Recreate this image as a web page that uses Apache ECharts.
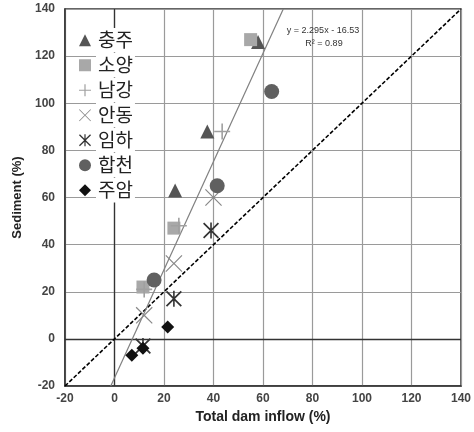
<!DOCTYPE html>
<html><head><meta charset="utf-8">
<script src="https://cdn.jsdelivr.net/npm/echarts@6/dist/echarts.min.js"></script>
<style>html,body{margin:0;padding:0;background:#fff}#c{width:474px;height:432px}</style>
</head><body><div id="c"></div>
<script>
const xTicks = [-20,0,20,40,60,80,100,120,140];
const yTicks = [-20,0,20,40,60,80,100,120,140];
const names = ['충주','소양','남강','안동','임하','합천','주암'];
const chungju = [[24.5,63],[37.5,88],[58,126]];
const soyang = [[11.5,22],[24,47],[55,127]];
const namgang = [[12,21],[26,48],[43.5,88]];
const andong = [[12,10],[24,32],[40,60]];
const imha = [[11.5,-3],[24,17],[39,46]];
const hapcheon = [[16,25],[41.5,65],[63.5,105]];
const juam = [[7,-7],[11.5,-4],[21.5,5]];
const trendLine = [[-1.5,-20],[68.2,140]];
const oneToOne = [[-20,-20],[140,140]];
const eqText = ['y = 2.295x - 16.53','R² = 0.89'];

const PLUS = 'path://M9,0 H11 V9 H20 V11 H11 V20 H9 V11 H0 V9 H9 Z';
const XS = 'path://M1,0 L10,9 L19,0 L20,1 L11,10 L20,19 L19,20 L10,11 L1,20 L0,19 L9,10 L0,1 Z';
const AST = 'path://M1.5,0 L10,8.5 L18.5,0 L20,1.5 L11.5,10 L20,18.5 L18.5,20 L10,11.5 L1.5,20 L0,18.5 L8.5,10 L0,1.5 Z M9,0 H11 V20 H9 Z';

const defs = [
  {d:chungju, sym:'triangle', size:14, color:'#555555'},
  {d:soyang, sym:'rect', size:13, color:'#a8a8a8'},
  {d:namgang, sym:PLUS, size:16, color:'#a0a0a0'},
  {d:andong, sym:XS, size:17, color:'#888888'},
  {d:imha, sym:AST, size:16, color:'#333333'},
  {d:hapcheon, sym:'circle', size:15, color:'#606060'},
  {d:juam, sym:'diamond', size:13, color:'#111111'}
];

const chart = echarts.init(document.getElementById('c'), null, {renderer:'canvas'});
const series = [
  {type:'line', data:oneToOne, symbol:'none', silent:true, z:2,
   lineStyle:{color:'#000', width:1.6, type:[4,2]},
   markLine:{silent:true, z:1, symbol:'none', label:{show:false},
     lineStyle:{color:'#333', width:1.3, type:'solid'},
     data:[{xAxis:0},{yAxis:0}]}},
  {type:'line', data:trendLine, symbol:'none', silent:true, z:2,
   lineStyle:{color:'#808080', width:1.2}}
];
defs.forEach((s,i)=>{
  series.push({type:'scatter', name:names[i], data:s.d, symbol:s.sym, symbolSize:s.size,
    itemStyle:{color:s.color, opacity:1}, z:3});
});
const axisLbl = {color:'#444', fontWeight:'bold', fontSize:12, fontFamily:'Liberation Sans, Arial'};
chart.setOption({
  animation:false,
  grid:{left:65, right:12, top:9, bottom:46, show:true, borderColor:'#333', borderWidth:1.5, backgroundColor:'#fff'},
  xAxis:{type:'value', min:-20, max:140, interval:20,
    name:'Total dam inflow (%)', nameLocation:'middle', nameGap:19,
    nameTextStyle:{color:'#222', fontWeight:'bold', fontSize:14, fontFamily:'Liberation Sans, Arial'},
    axisLine:{onZero:false, lineStyle:{color:'#333', width:1.5}},
    axisTick:{show:false}, axisLabel:Object.assign({margin:7}, axisLbl),
    splitLine:{lineStyle:{color:'#9a9a9a', width:1.2}}},
  yAxis:{type:'value', min:-20, max:140, interval:20,
    name:'Sediment (%)', nameLocation:'middle', nameGap:40, nameRotate:90,
    nameTextStyle:{color:'#222', fontWeight:'bold', fontSize:13, fontFamily:'Liberation Sans, Arial'},
    axisLine:{onZero:false, lineStyle:{color:'#333', width:1.5}},
    axisTick:{show:false}, axisLabel:Object.assign({margin:10}, axisLbl),
    splitLine:{lineStyle:{color:'#9a9a9a', width:1.2}}},
  legend:{orient:'vertical', left:74, top:23, z:6, itemGap:0.5, itemWidth:12, itemHeight:12,
    data:names,
    textStyle:{fontSize:19, lineHeight:24.5, color:'#222', fontFamily:'Noto Sans CJK KR',
      backgroundColor:'#fff', padding:[0,2,0,2]}},
  graphic:[
    {type:'text', x:323, y:31, z:10, style:{text:eqText[0], align:'center', verticalAlign:'middle', fill:'#333', font:'9px Liberation Sans, Arial'}},
    {type:'text', x:324, y:44, z:10, style:{text:eqText[1], align:'center', verticalAlign:'middle', fill:'#333', font:'9px Liberation Sans, Arial'}}
  ],
  series:series
});
</script></body></html>
